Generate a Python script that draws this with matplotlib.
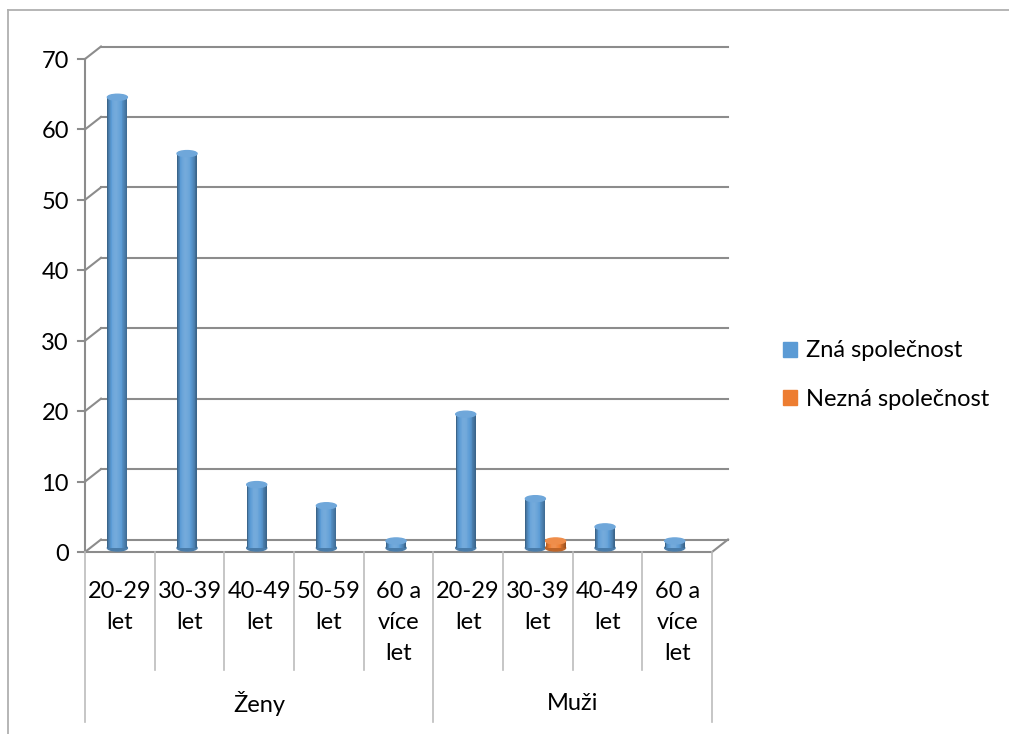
import matplotlib.pyplot as plt
from matplotlib.patches import Ellipse, Patch
import matplotlib.colors as mcolors
import numpy as np

plt.rcParams['font.family'] = ['Lato', 'DejaVu Sans']

# data
categories = ["20-29\nlet", "30-39\nlet", "40-49\nlet", "50-59\nlet", "60 a\nvíce\nlet",
              "20-29\nlet", "30-39\nlet", "40-49\nlet", "60 a\nvíce\nlet"]
groups = ["Ženy", "Muži"]
group_sizes = [5, 4]
zna = [64, 56, 9, 6, 1, 19, 7, 3, 1]
nezna = [0, 0, 0, 0, 0, 0, 1, 0, 0]
series_names = ["Zná společnost", "Nezná společnost"]
yticks = [0, 10, 20, 30, 40, 50, 60, 70]

blue = "#5b9bd5"
orange = "#ed7d31"
grid_c = "#8c8c8c"
sep_c = "#bcbcbc"
fs = 17

W, H = 1009, 734
fig = plt.figure(figsize=(W / 100, H / 100), dpi=100)
x0_px, x1_px = 85, 712
y0_px, y1_px = 552, 59
ax = fig.add_axes([x0_px / W, 1 - y0_px / H, (x1_px - x0_px) / W, (y0_px - y1_px) / H])
n = len(categories)
ymax = 70
ax.set_xlim(0, n)
ax.set_ylim(0, ymax)
ax.axis("off")

px_x = (x1_px - x0_px) / n          # pixels per category
px_y = (y0_px - y1_px) / ymax       # pixels per unit
DX = 16 / px_x
DY = 12.5 / px_y

# back wall gridlines and side diagonals
for v in yticks:
    ax.plot([DX, n + DX], [v + DY, v + DY], color=grid_c, lw=1.5, zorder=1, clip_on=False)
    ax.plot([0, DX], [v, v + DY], color=grid_c, lw=1.5, zorder=1, clip_on=False)
    ax.plot([-7 / px_x, 0], [v, v], color=grid_c, lw=1.5, zorder=1, clip_on=False)
    ax.text(-16 / px_x, v - 2.5 / px_y, str(v), ha="right", va="center", fontsize=fs, color="black")
ax.plot([0, 0], [0, ymax], color=grid_c, lw=1.5, zorder=1, clip_on=False)
ax.plot([0, n], [0, 0], color=grid_c, lw=1.5, zorder=1, clip_on=False)
ax.plot([n, n + DX], [0, DY], color=grid_c, lw=1.5, zorder=1, clip_on=False)

# category separators and labels
inner_bot = (y0_px - 670) / px_y
outer_bot = (y0_px - 722) / px_y
bounds = np.cumsum([0] + group_sizes)
for i in range(n + 1):
    bot = outer_bot if i in bounds else inner_bot
    ax.plot([i, i], [0, bot], color=sep_c, lw=1.2, clip_on=False)
for i, lab in enumerate(categories):
    ax.text(i + 0.5, (y0_px - 581) / px_y, lab, ha="center", va="top",
            fontsize=fs, linespacing=1.6)
for g, lab in enumerate(groups):
    ax.text((bounds[g] + bounds[g + 1]) / 2, (y0_px - 704) / px_y, lab,
            ha="center", va="center", fontsize=fs)


# cylinders
def shade(color, f):
    c = np.array(mcolors.to_rgb(color))
    if f < 0:
        return tuple(c * (1 + f))
    return tuple(c + (1 - c) * f)


bw = 20 / px_x
base = 0.57
ell_h = 6 / px_y
nstrip = 24
profile = np.linspace(0, 1, nstrip)
fac = -0.35 + 0.5 * np.sin(np.pi * profile ** 0.8)


def cylinder(xc, val, color):
    if val <= 0:
        return
    ax.add_patch(Ellipse((xc, base), bw, ell_h, color=shade(color, -0.2), zorder=3, clip_on=False))
    xs = xc - bw / 2 + (np.arange(nstrip) + 0.5) * bw / nstrip
    ax.bar(xs, [val] * nstrip, bottom=base, width=bw / nstrip * 1.05,
           color=[shade(color, f) for f in fac], zorder=4, linewidth=0, clip_on=False)
    ax.add_patch(Ellipse((xc, base + val), bw, ell_h, color=shade(color, 0.12), zorder=5, clip_on=False))


for i in range(n):
    xc = i + 0.5 + DX / 2
    cylinder(xc - 0.15, zna[i], blue)
    cylinder(xc + 0.14, nezna[i], orange)

# legend
handles = [Patch(color=blue), Patch(color=orange)]
fig.legend(handles, series_names, loc="center left", bbox_to_anchor=(762 / W, 1 - 375 / H),
           frameon=False, fontsize=fs, handlelength=0.6, handleheight=0.6,
           handletextpad=0.35, labelspacing=1.15)

# chart border
fig.add_artist(plt.Line2D([8 / W, 8 / W], [0, 1 - 10 / H], color="#b0b0b0", lw=1.3))
fig.add_artist(plt.Line2D([8 / W, 1], [1 - 10 / H, 1 - 10 / H], color="#b0b0b0", lw=1.3))

fig.savefig("out.png", dpi=100)
